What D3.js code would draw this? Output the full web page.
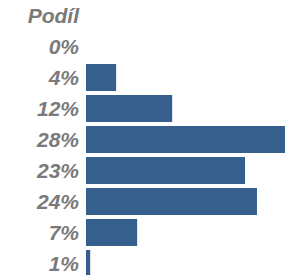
<!DOCTYPE html>
<html>
<head>
<meta charset="utf-8">
<script src="https://cdn.jsdelivr.net/npm/d3@7"></script>
<style>
  body { margin: 0; background: #fff; }
  svg text { font-family: "Liberation Sans", Arial, sans-serif; font-weight: bold; font-style: italic; fill: #7a7a7a; }
</style>
</head>
<body>
<svg></svg>
<script>
const header = "Podíl";
const labels = ["0%", "4%", "12%", "28%", "23%", "24%", "7%", "1%"];
const values = [0, 4.3, 12.3, 28.4, 22.7, 24.4, 7.3, 0.6];

const width = 295;
const height = 275;
const labelRight = 79;

const svg = d3.select("svg")
    .attr("width", width)
    .attr("height", height);

const yScale = d3.scaleBand()
    .domain(d3.range(values.length))
    .range([31, 279])
    .paddingInner(0.13)
    .paddingOuter(0.065);

const xScale = d3.scaleLinear()
    .domain([0, d3.max(values)])
    .range([86, 285]);

svg.append("text")
    .attr("x", labelRight)
    .attr("y", 15)
    .attr("text-anchor", "end")
    .attr("dominant-baseline", "central")
    .style("font-size", "21px")
    .text(header);

svg.selectAll("rect.bar")
    .data(values)
    .enter()
    .append("rect")
    .attr("class", "bar")
    .attr("x", xScale(0))
    .attr("y", (d, i) => yScale(i))
    .attr("width", d => xScale(d) - xScale(0))
    .attr("height", yScale.bandwidth())
    .attr("fill", "#365f8e");

svg.selectAll("text.lbl")
    .data(labels)
    .enter()
    .append("text")
    .attr("class", "lbl")
    .attr("x", labelRight)
    .attr("y", (d, i) => yScale(i) + yScale.bandwidth() / 2)
    .attr("text-anchor", "end")
    .attr("dominant-baseline", "central")
    .style("font-size", "21px")
    .text(d => d);
</script>
</body>
</html>
